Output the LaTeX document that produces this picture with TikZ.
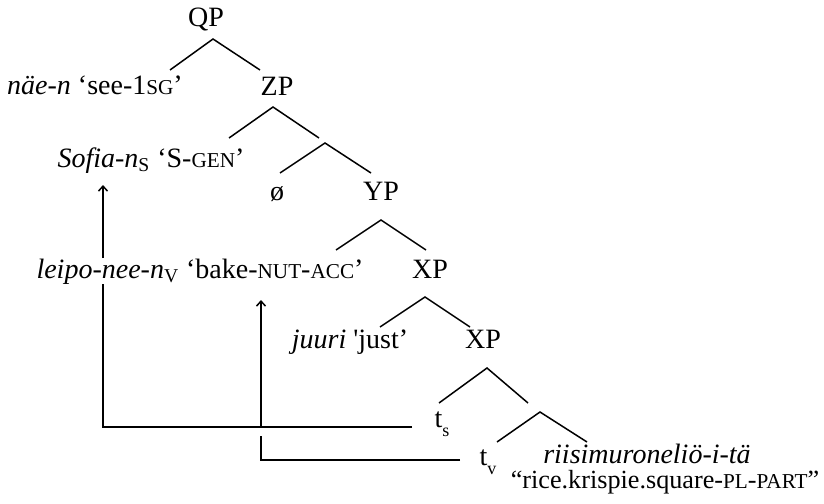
\documentclass[tikz,border=0pt]{standalone}
\usepackage{fontspec}
\setmainfont{Liberation Serif}
\usetikzlibrary{arrows.meta}
\newcommand{\gsc}[1]{{\fontsize{10.6}{12}\selectfont #1}}
\newcommand{\trsub}[1]{\raisebox{-4.5pt}{\fontsize{9}{10}\selectfont #1}}

\begin{document}
\begin{tikzpicture}[x=0.5pt,y=-0.5pt,
    every node/.style={anchor=base,inner sep=0pt,font=\fontsize{14}{17}\selectfont},
    branch/.style={line width=0.75pt},
    move/.style={line width=0.75pt},
    tip/.style={-{Straight Barb[length=2.5pt,width=4.5pt]}}]
			%%%%% START %%%%%
			\useasboundingbox (0,0) rectangle (824,503);
			
			\node (qp) at (206,26) {QP};
			\node (nae) at (95,94) {\textit{näe-n} ‘see-1\gsc{SG}’};
			\node (zp) at (277,95) {ZP};
			\node (sofia) at (151,167) {\textit{Sofia-n}\textsubscript{S} ‘S-\gsc{GEN}’};
			\node (null) at (277,200) {ø};
			\node (yp) at (381,200) {YP};
			\node (leipo) at (200,278) {\textit{leipo-nee-n}\textsubscript{V} ‘bake-\gsc{NUT}-\gsc{ACC}’};
			\node (xpa) at (430,278) {XP};
			\node (juuri) at (350,348) {\textit{juuri} \textquotesingle just’};
			\node (xpb) at (483,348) {XP};
			\node (ts) at (442,427) {t\trsub{s}};
			\node (tv) at (488,465) {t\trsub{v}};
			\node (riisi) at (647,463) {\textit{riisimuroneliö-i-tä}};
			\node[font=\fontsize{13.1}{16}\selectfont] (gloss) at (665,488) {“rice.krispie.square-\gsc{PL}-\gsc{PART}”};
			
			% branches
			\coordinate (qp-b) at (213,39);  \coordinate (qp-l) at (170,70);  \coordinate (qp-r) at (260,70);
			\coordinate (zp-b) at (273,107); \coordinate (zp-l) at (229,138); \coordinate (zp-r) at (319,138);
			\coordinate (zb-b) at (325,143); \coordinate (zb-l) at (280,173); \coordinate (zb-r) at (371,173);
			\coordinate (yp-b) at (381,220); \coordinate (yp-l) at (336,250); \coordinate (yp-r) at (426,250);
			\coordinate (xa-b) at (425,297); \coordinate (xa-l) at (380,327); \coordinate (xa-r) at (470,327);
			\coordinate (xb-b) at (487,368); \coordinate (xb-l) at (439,403); \coordinate (xb-r) at (528,403);
			\coordinate (xc-b) at (540,412); \coordinate (xc-l) at (497,442); \coordinate (xc-r) at (587,442);
			
			\draw[branch] (qp-l) -- (qp-b) -- (qp-r);
			\draw[branch] (zp-l) -- (zp-b) -- (zp-r);
			\draw[branch] (zb-l) -- (zb-b) -- (zb-r);
			\draw[branch] (yp-l) -- (yp-b) -- (yp-r);
			\draw[branch] (xa-l) -- (xa-b) -- (xa-r);
			\draw[branch] (xb-l) -- (xb-b) -- (xb-r);
			\draw[branch] (xc-l) -- (xc-b) -- (xc-r);
			
			% movement of the subject
			\coordinate (s-foot) at (103,427);
			\coordinate (s-end) at (412,427);
			\coordinate (s-tip) at (103,185);
			\draw[move] (s-end) -- (s-foot) -- (s-foot |- leipo.south);
			\draw[move,tip] (s-foot |- leipo.north) -- (s-tip);
			
			% movement of the verb
			\coordinate (v-foot) at (261,460);
			\coordinate (v-end) at (460,460);
			\coordinate (v-gap) at (261,436);
			\coordinate (v-tip) at (261,300);
			\draw[move] (v-end) -- (v-foot) -- (v-gap);
			\draw[move,tip] (v-foot |- s-foot) -- (v-tip);
			%%%%% END %%%%%
\end{tikzpicture}
\end{document}
